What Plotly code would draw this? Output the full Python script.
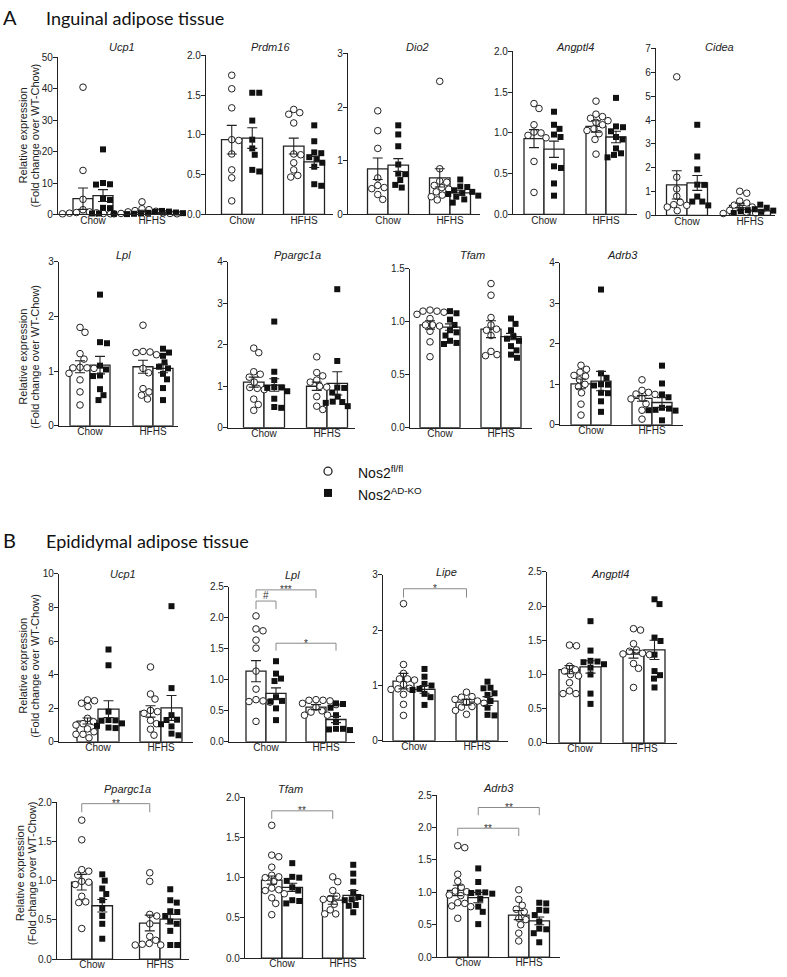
import plotly.graph_objects as go

W, H = 787, 977
FONT = "Liberation Sans, Arial, sans-serif"
HEAD_FONT = "Lato, Noto Sans, sans-serif"
INK = "#222222"

groups = ["Chow", "HFHS"]
legend_labels = ["Nos2<sup>fl/fl</sup>", "Nos2<sup>AD-KO</sup>"]
panel_titles = ["Inguinal adipose tissue", "Epididymal adipose tissue"]
ylab_lines = ["Relative expression", "(Fold change over WT-Chow)"]

# ---------------- data: group order = [fl/fl Chow, AD-KO Chow, fl/fl HFHS, AD-KO HFHS]
# Panel A - inguinal
ing_ucp1_pts = [[40.5, 14.0, 4.8, 1.5, 0.8, 0.5, 0.3, 0.2, 0.4, 0.6, 0.2],
                [20.7, 10.0, 9.6, 9.5, 4.9, 4.6, 2.0, 2.1, 0.3, 0.2, 0.3],
                [4.0, 1.8, 1.5, 1.2, 1.0, 0.8, 0.5, 0.3, 0.3, 0.2, 0.2],
                [1.1, 0.9, 0.8, 0.6, 0.5, 0.4, 0.3, 0.3, 0.2, 0.2, 0.1]]
ing_ucp1_mean = [5.0, 6.0, 1.0, 0.5]
ing_ucp1_sem = [3.4, 1.9, 0.3, 0.1]

ing_prdm16_pts = [[1.75, 1.58, 1.34, 0.94, 0.93, 0.76, 0.56, 0.46, 0.17],
                  [1.53, 1.53, 1.18, 0.94, 0.83, 0.75, 0.56, 0.54],
                  [1.32, 1.28, 1.26, 1.15, 0.76, 0.75, 0.65, 0.56, 0.49, 0.47],
                  [1.12, 0.92, 0.78, 0.77, 0.72, 0.70, 0.65, 0.60, 0.38, 0.36]]
ing_prdm16_mean = [0.94, 0.96, 0.86, 0.66]
ing_prdm16_sem = [0.18, 0.13, 0.10, 0.07]

ing_dio2_pts = [[1.93, 1.56, 1.23, 0.68, 0.54, 0.50, 0.48, 0.37, 0.28],
                [1.66, 1.49, 1.27, 0.93, 0.76, 0.75, 0.64, 0.55, 0.50],
                [2.48, 0.85, 0.62, 0.60, 0.54, 0.50, 0.47, 0.42, 0.36, 0.27, 0.33],
                [0.65, 0.52, 0.51, 0.45, 0.42, 0.40, 0.38, 0.35, 0.33, 0.28, 0.22]]
ing_dio2_mean = [0.85, 0.92, 0.68, 0.40]
ing_dio2_sem = [0.20, 0.12, 0.17, 0.04]

ing_angptl4_pts = [[1.36, 1.30, 1.10, 1.01, 1.00, 0.97, 0.94, 0.65, 0.27],
                   [1.26, 1.10, 1.05, 0.98, 0.95, 0.59, 0.57, 0.38, 0.23],
                   [1.39, 1.23, 1.20, 1.18, 1.15, 1.13, 1.10, 1.05, 1.03, 0.99, 0.92, 0.74],
                   [1.43, 1.08, 1.07, 1.02, 0.95, 0.92, 0.81, 0.75, 0.73, 0.70]]
ing_angptl4_mean = [0.93, 0.80, 1.08, 0.95]
ing_angptl4_sem = [0.11, 0.10, 0.07, 0.07]

ing_cidea_pts = [[5.81, 1.60, 1.11, 0.80, 0.55, 0.45, 0.42, 0.35, 0.20],
                 [3.80, 2.47, 1.93, 1.29, 1.28, 0.79, 0.58, 0.58, 0.42],
                 [1.01, 0.93, 0.60, 0.52, 0.43, 0.35, 0.28, 0.21, 0.14, 0.10, 0.08],
                 [0.45, 0.32, 0.26, 0.22, 0.20, 0.18, 0.15, 0.12, 0.10, 0.08]]
ing_cidea_mean = [1.28, 1.36, 0.42, 0.19]
ing_cidea_sem = [0.59, 0.31, 0.09, 0.04]

ing_lpl_pts = [[1.80, 1.71, 1.32, 1.22, 1.07, 1.06, 1.06, 1.05, 0.96, 0.84, 0.62, 0.38],
               [2.40, 1.53, 1.51, 1.10, 1.03, 0.92, 0.91, 0.67, 0.56, 0.47],
               [1.84, 1.36, 1.35, 1.34, 1.30, 1.05, 0.97, 0.68, 0.62, 0.56, 0.49],
               [1.41, 1.34, 1.28, 1.16, 1.08, 1.05, 0.95, 0.85, 0.69, 0.47]]
ing_lpl_mean = [1.08, 1.11, 1.08, 1.05]
ing_lpl_sem = [0.11, 0.16, 0.12, 0.08]

ing_ppargc1a_pts = [[1.92, 1.81, 1.35, 1.29, 1.22, 1.10, 0.97, 0.95, 0.92, 0.69, 0.56, 0.42],
                    [2.56, 1.35, 1.15, 0.98, 0.97, 0.96, 0.88, 0.70, 0.50, 0.48],
                    [1.71, 1.33, 1.25, 1.15, 1.10, 1.00, 0.98, 0.75, 0.52, 0.44],
                    [3.34, 1.61, 0.97, 0.96, 0.85, 0.75, 0.63, 0.62, 0.60, 0.52]]
ing_ppargc1a_mean = [1.10, 1.03, 1.00, 1.07]
ing_ppargc1a_sem = [0.12, 0.15, 0.10, 0.28]

ing_tfam_pts = [[1.10, 1.10, 1.11, 1.09, 1.07, 1.03, 0.97, 0.97, 0.96, 0.91, 0.81, 0.67],
                [1.10, 1.08, 1.02, 0.97, 0.92, 0.90, 0.87, 0.82, 0.80, 0.79],
                [1.36, 1.25, 1.04, 0.97, 0.93, 0.92, 0.87, 0.72, 0.69, 0.68],
                [1.03, 0.98, 0.92, 0.86, 0.84, 0.82, 0.77, 0.73, 0.69, 0.66]]
ing_tfam_mean = [0.97, 0.95, 0.93, 0.86]
ing_tfam_sem = [0.04, 0.03, 0.08, 0.03]

ing_adrb3_pts = [[1.47, 1.37, 1.30, 1.22, 1.20, 1.11, 1.00, 0.94, 0.79, 0.51, 0.24],
                 [3.34, 1.27, 1.16, 1.00, 0.99, 0.97, 0.79, 0.78, 0.58, 0.32],
                 [1.11, 0.85, 0.80, 0.76, 0.75, 0.66, 0.64, 0.52, 0.36, 0.14],
                 [1.46, 1.02, 0.75, 0.68, 0.42, 0.40, 0.37, 0.36, 0.35, 0.11]]
ing_adrb3_mean = [1.01, 1.08, 0.65, 0.55]
ing_adrb3_sem = [0.12, 0.24, 0.07, 0.12]

# Panel B - epididymal
epi_ucp1_pts = [[2.50, 2.45, 2.30, 2.10, 1.40, 1.20, 1.08, 1.00, 0.77, 0.60, 0.45, 0.45, 0.24],
                [5.50, 4.56, 1.80, 1.30, 1.28, 1.26, 1.10, 0.95, 0.85, 0.82],
                [4.46, 2.85, 2.55, 1.87, 1.80, 1.70, 1.28, 1.08, 0.75, 0.40],
                [8.08, 3.20, 1.59, 1.32, 1.30, 1.05, 0.92, 0.49, 0.39]]
epi_ucp1_mean = [1.24, 1.95, 1.81, 2.02]
epi_ucp1_sem = [0.18, 0.50, 0.34, 0.74]

epi_lpl_pts = [[2.03, 1.82, 1.79, 1.64, 1.51, 1.14, 0.85, 0.68, 0.66, 0.65, 0.64, 0.33],
               [1.30, 1.10, 1.02, 0.98, 0.72, 0.66, 0.65, 0.54, 0.35],
               [0.68, 0.67, 0.67, 0.66, 0.62, 0.60, 0.56, 0.50, 0.48, 0.43, 0.43],
               [0.62, 0.61, 0.55, 0.43, 0.32, 0.21, 0.21, 0.20, 0.19]]
epi_lpl_mean = [1.14, 0.78, 0.56, 0.36]
epi_lpl_sem = [0.17, 0.09, 0.04, 0.05]

epi_lipe_pts = [[2.48, 1.38, 1.22, 1.12, 1.12, 1.10, 1.02, 0.95, 0.94, 0.93, 0.84, 0.66, 0.46],
                [1.30, 1.16, 1.03, 1.00, 0.94, 0.92, 0.85, 0.79, 0.65],
                [0.88, 0.80, 0.79, 0.75, 0.72, 0.70, 0.68, 0.62, 0.61, 0.55, 0.48],
                [1.07, 0.96, 0.95, 0.86, 0.83, 0.72, 0.60, 0.47, 0.46]]
epi_lipe_mean = [1.08, 0.93, 0.70, 0.72]
epi_lipe_sem = [0.14, 0.07, 0.05, 0.08]

epi_angptl4_pts = [[1.43, 1.42, 1.12, 1.07, 1.05, 1.00, 0.98, 0.88, 0.76, 0.72, 0.72],
                   [1.78, 1.35, 1.20, 1.19, 1.18, 1.15, 1.10, 1.00, 0.72, 0.57],
                   [1.67, 1.65, 1.45, 1.36, 1.34, 1.31, 1.30, 1.29, 1.16, 1.09, 0.81],
                   [2.10, 2.03, 1.54, 1.49, 1.29, 1.05, 0.99, 0.94, 0.81]]
epi_angptl4_mean = [1.07, 1.11, 1.30, 1.36]
epi_angptl4_sem = [0.06, 0.09, 0.06, 0.14]

epi_ppargc1a_pts = [[1.77, 1.52, 1.14, 1.12, 1.07, 0.99, 0.98, 0.95, 0.80, 0.73, 0.72, 0.39],
                    [1.08, 1.00, 0.90, 0.83, 0.75, 0.65, 0.55, 0.45, 0.26],
                    [1.10, 0.99, 0.57, 0.55, 0.45, 0.29, 0.24, 0.20, 0.19, 0.18, 0.18],
                    [0.89, 0.75, 0.72, 0.61, 0.60, 0.55, 0.48, 0.45, 0.36, 0.18, 0.18]]
epi_ppargc1a_mean = [0.98, 0.68, 0.46, 0.51]
epi_ppargc1a_sem = [0.10, 0.08, 0.10, 0.06]

epi_tfam_pts = [[1.65, 1.28, 1.26, 1.13, 1.03, 1.01, 1.00, 0.95, 0.87, 0.85, 0.84, 0.80, 0.75, 0.68, 0.54],
                [1.18, 1.01, 1.00, 0.96, 0.88, 0.84, 0.72, 0.71, 0.68],
                [1.01, 0.95, 0.84, 0.77, 0.74, 0.73, 0.67, 0.60, 0.55, 0.55],
                [1.16, 1.05, 0.95, 0.82, 0.76, 0.73, 0.72, 0.66, 0.65, 0.57]]
epi_tfam_mean = [0.97, 0.88, 0.72, 0.78]
epi_tfam_sem = [0.05, 0.05, 0.05, 0.06]

epi_adrb3_pts = [[1.72, 1.69, 1.28, 1.17, 1.08, 1.02, 1.01, 0.96, 0.95, 0.84, 0.83, 0.79, 0.78, 0.60],
                 [1.37, 1.16, 1.00, 1.00, 0.99, 0.98, 0.90, 0.78, 0.70, 0.51],
                 [1.04, 0.89, 0.80, 0.74, 0.70, 0.60, 0.58, 0.50, 0.37, 0.25],
                 [0.84, 0.83, 0.73, 0.72, 0.65, 0.55, 0.44, 0.43, 0.37, 0.23]]
epi_adrb3_mean = [1.03, 0.92, 0.65, 0.56]
epi_adrb3_sem = [0.08, 0.08, 0.07, 0.06]

# significance brackets: (bar a, bar b, top, leg end, label)
epi_lpl_sig = [(0, 1, 2.27, 2.14, "#"), (0, 2, 2.45, 2.32, "***"), (1, 3, 1.59, 1.47, "*")]
epi_lipe_sig = [(0, 2, 2.75, 2.59, "*")]
epi_ppargc1a_sig = [(0, 2, 1.98, 1.87, "**")]
epi_tfam_sig = [(0, 2, 1.83, 1.73, "**")]
epi_adrb3_sig = [(0, 2, 1.99, 1.87, "**"), (1, 3, 2.31, 2.19, "**")]

# ---------------- layout of the small panels (pixels)
# box = (y-axis x, x-axis end, top, bottom), c = group centres, bw = bar width, tx/ty = title,
# lab = x of the two y-label lines and their vertical centre
panels = [
    dict(t="Ucp1", p=ing_ucp1_pts, m=ing_ucp1_mean, s=ing_ucp1_sem, ymax=50, dt=10, f="d",
         box=(58, 183, 52, 211), c=(93, 152), bw=20, tx=122, ty=42, lab=(23, 35, 131)),
    dict(t="Prdm16", p=ing_prdm16_pts, m=ing_prdm16_mean, s=ing_prdm16_sem, ymax=2, dt=0.5, f=".1f",
         box=(206, 333, 50, 211), c=(242, 304), bw=20.5, tx=270, ty=42),
    dict(t="Dio2", p=ing_dio2_pts, m=ing_dio2_mean, s=ing_dio2_sem, ymax=3, dt=1, f="d",
         box=(348, 480, 48, 211), c=(388, 450), bw=20.5, tx=418, ty=42),
    dict(t="Angptl4", p=ing_angptl4_pts, m=ing_angptl4_mean, s=ing_angptl4_sem, ymax=2, dt=0.5, f=".1f",
         box=(513, 637, 46, 211), c=(544, 606), bw=20, tx=575, ty=42),
    dict(t="Cidea", p=ing_cidea_pts, m=ing_cidea_mean, s=ing_cidea_sem, ymax=7, dt=1, f="d",
         box=(656, 775, 43, 212), c=(687, 750), bw=20.5, tx=719, ty=42),
    dict(t="Lpl", p=ing_lpl_pts, m=ing_lpl_mean, s=ing_lpl_sem, ymax=3, dt=1, f="d",
         box=(59, 178, 259, 425), c=(90, 153), bw=20, tx=123, ty=252, lab=(23, 35, 355)),
    dict(t="Ppargc1a", p=ing_ppargc1a_pts, m=ing_ppargc1a_mean, s=ing_ppargc1a_sem, ymax=4, dt=1, f="d",
         box=(228, 355, 259, 427), c=(264, 327), bw=20.5, tx=297, ty=252),
    dict(t="Tfam", p=ing_tfam_pts, m=ing_tfam_mean, s=ing_tfam_sem, ymax=1.5, dt=0.5, f=".1f",
         box=(410, 532, 266, 427), c=(440, 501), bw=20, tx=472, ty=252),
    dict(t="Adrb3", p=ing_adrb3_pts, m=ing_adrb3_mean, s=ing_adrb3_sem, ymax=4, dt=1, f="d",
         box=(560, 683, 260, 424), c=(591, 652), bw=20, tx=622, ty=252),
    dict(t="Ucp1", p=epi_ucp1_pts, m=epi_ucp1_mean, s=epi_ucp1_sem, ymax=10, dt=2, f="d",
         box=(59, 193, 575, 745), c=(98, 161), bw=21, tx=123, ty=575, lab=(23, 35, 668)),
    dict(t="Lpl", p=epi_lpl_pts, m=epi_lpl_mean, s=epi_lpl_sem, ymax=2.5, dt=0.5, f=".1f",
         box=(229, 355, 588, 745), c=(266, 326), bw=20, tx=292, ty=576, sig=epi_lpl_sig),
    dict(t="Lipe", p=epi_lipe_pts, m=epi_lipe_mean, s=epi_lipe_sem, ymax=3, dt=1, f="d",
         box=(383, 508, 576, 744), c=(414, 477), bw=21, tx=446, ty=573, sig=epi_lipe_sig),
    dict(t="Angptl4", p=epi_angptl4_pts, m=epi_angptl4_mean, s=epi_angptl4_sem, ymax=2.5, dt=0.5, f=".1f",
         box=(547, 677, 573, 746), c=(580, 644), bw=21, tx=610, ty=575),
    dict(t="Ppargc1a", p=epi_ppargc1a_pts, m=epi_ppargc1a_mean, s=epi_ppargc1a_sem, ymax=2, dt=0.5, f=".1f",
         box=(57, 189, 806, 965), c=(92, 160), bw=20.5, tx=127, ty=793, lab=(20, 32, 878), sig=epi_ppargc1a_sig),
    dict(t="Tfam", p=epi_tfam_pts, m=epi_tfam_mean, s=epi_tfam_sem, ymax=2, dt=0.5, f=".1f",
         box=(245, 366, 801, 964), c=(282, 343), bw=20.5, tx=290, ty=793, sig=epi_tfam_sig),
    dict(t="Adrb3", p=epi_adrb3_pts, m=epi_adrb3_mean, s=epi_adrb3_sem, ymax=2.5, dt=0.5, f=".1f",
         box=(437, 560, 799, 963), c=(468, 529), bw=20.5, tx=498, ty=792, sig=epi_adrb3_sig),
]


def swarm(vals, px_per_y, diam=6.8, step=0.5):
    """horizontal pixel offsets so markers do not overlap (simple beeswarm)"""
    placed = []
    res = [0.0] * len(vals)
    for i in sorted(range(len(vals)), key=lambda k: -vals[k]):
        y = vals[i] * px_per_y
        chosen = 0.0
        for k in range(0, 80):
            cands = [0.0] if k == 0 else [k * step, -k * step]
            hit = None
            for cx in cands:
                if all((cx - px) ** 2 + (y - py) ** 2 >= diam ** 2 for px, py in placed):
                    hit = cx
                    break
            if hit is not None:
                chosen = hit
                break
        placed.append((chosen, y))
        res[i] = chosen
    return res


def px_x(v):
    return v / W


def px_y(v):
    return 1 - v / H


fig = go.Figure()
annotations = []
shapes = []
layout_axes = {}

for i, pn in enumerate(panels):
    n = i + 1
    xs = "" if n == 1 else str(n)
    xa, ya = "x" + xs, "y" + xs
    x0, x1, yt, yb = pn["box"]
    c0, c1 = pn["c"]
    unit = c1 - c0
    bwu = pn["bw"] / unit
    centers = [-bwu / 2, bwu / 2, 1 - bwu / 2, 1 + bwu / 2]
    pxy = (yb - yt) / pn["ymax"]

    # bars
    for gi, (a, b) in enumerate([(0, 2), (1, 3)]):
        fig.add_trace(go.Bar(
            x=[centers[a], centers[b]], y=[pn["m"][a], pn["m"][b]], width=bwu,
            marker=dict(color="white", line=dict(color=INK, width=1.3)),
            xaxis=xa, yaxis=ya, showlegend=False, hoverinfo="skip"))
    # points
    for gi, (a, b) in enumerate([(0, 2), (1, 3)]):
        xx, yy = [], []
        for g in (a, b):
            offs = swarm(pn["p"][g], pxy)
            xx += [centers[g] + o / unit for o in offs]
            yy += list(pn["p"][g])
        if gi == 0:
            mk = dict(symbol="circle", size=6.6, color="white", line=dict(color=INK, width=1))
        else:
            mk = dict(symbol="square", size=6, color="#111111", line=dict(width=0))
        fig.add_trace(go.Scatter(x=xx, y=yy, mode="markers", marker=mk, cliponaxis=False,
                                 xaxis=xa, yaxis=ya, showlegend=False, hoverinfo="skip"))
    # error bars (mean +/- SEM)
    fig.add_trace(go.Scatter(
        x=centers, y=pn["m"], mode="markers", marker=dict(size=1, color="rgba(0,0,0,0)"),
        error_y=dict(type="data", array=pn["s"], color=INK, thickness=1.1, width=5),
        cliponaxis=False, xaxis=xa, yaxis=ya, showlegend=False, hoverinfo="skip"))

    layout_axes["xaxis" + xs] = dict(
        domain=[px_x(x0), px_x(x1)], anchor=ya,
        range=[-(c0 - x0) / unit, 1 + (x1 - c1) / unit],
        tickvals=[0, 1], ticktext=groups, ticks="", showline=True, linecolor=INK,
        linewidth=1.3, showgrid=False, zeroline=False, ticklabelstandoff=-4,
        tickfont=dict(family=FONT, size=10, color=INK), fixedrange=True)
    layout_axes["yaxis" + xs] = dict(
        domain=[px_y(yb), px_y(yt)], anchor=xa, range=[0, pn["ymax"]],
        dtick=pn["dt"], tick0=0, tickformat=pn["f"], ticks="outside", ticklen=4,
        tickwidth=1.1, tickcolor=INK, showline=True, linecolor=INK, linewidth=1.3,
        showgrid=False, zeroline=False, ticklabelstandoff=-2,
        tickfont=dict(family=FONT, size=10, color=INK), fixedrange=True)

    annotations.append(dict(text="<i>%s</i>" % pn["t"], x=px_x(pn["tx"]), y=px_y(pn["ty"]),
                            xref="paper", yref="paper", showarrow=False, xanchor="center",
                            yanchor="middle", font=dict(family=FONT, size=11, color=INK)))
    if "lab" in pn:
        lx1, lx2, ly = pn["lab"]
        for txt, lx in zip(ylab_lines, (lx1, lx2)):
            annotations.append(dict(text=txt, x=px_x(lx), y=px_y(ly), xref="paper", yref="paper",
                                    showarrow=False, textangle=-90, xanchor="center", yanchor="middle",
                                    font=dict(family=FONT, size=11, color=INK)))
    for (a, b, top, leg, lab) in pn.get("sig", []):
        xa_, xb_ = centers[a], centers[b]
        shapes.append(dict(type="path", xref=xa, yref=ya,
                           path="M %f %f L %f %f L %f %f L %f %f" % (xa_, leg, xa_, top, xb_, top, xb_, leg),
                           line=dict(color="#8a8a8a", width=1)))
        annotations.append(dict(text=lab, x=(xa_ + xb_) / 2, y=top, xref=xa, yref=ya,
                                showarrow=False, yanchor="middle",
                                yshift=(6 if lab == "#" else 0),
                                font=dict(family=FONT, size=10, color="#333333")))

# panel headers
for letter, title, ly in [("A", panel_titles[0], 11), ("B", panel_titles[1], 541)]:
    annotations.append(dict(text=letter, x=px_x(1), y=px_y(ly), xref="paper", yref="paper",
                            showarrow=False, xanchor="left", yanchor="middle",
                            font=dict(family=HEAD_FONT, size=20, color="#111")))
    annotations.append(dict(text=title, x=px_x(44), y=px_y(ly + 1), xref="paper", yref="paper",
                            showarrow=False, xanchor="left", yanchor="middle",
                            font=dict(family=HEAD_FONT, size=18, color="#111")))

# legend (drawn manually)
for k, (lbl, ly) in enumerate(zip(legend_labels, [471, 493])):
    if k == 0:
        shapes.append(dict(type="circle", xref="paper", yref="paper", xsizemode="pixel",
                           ysizemode="pixel", xanchor=px_x(328), yanchor=px_y(ly),
                           x0=-4, x1=4, y0=-4, y1=4, line=dict(color=INK, width=1.3),
                           fillcolor="white"))
    else:
        shapes.append(dict(type="rect", xref="paper", yref="paper", xsizemode="pixel",
                           ysizemode="pixel", xanchor=px_x(328), yanchor=px_y(ly),
                           x0=-4, x1=4, y0=-4, y1=4, line=dict(width=0), fillcolor="#111"))
    annotations.append(dict(text=lbl, x=px_x(356), y=px_y(ly + 1), xref="paper", yref="paper",
                            showarrow=False, xanchor="left", yanchor="middle",
                            font=dict(family=FONT, size=14, color="#111")))

fig.update_layout(
    width=W, height=H, margin=dict(l=0, r=0, t=0, b=0),
    paper_bgcolor="white", plot_bgcolor="white", barmode="overlay",
    showlegend=False, annotations=annotations, shapes=shapes,
    font=dict(family=FONT, color=INK), **layout_axes)

fig.write_html("out.html", config={"displayModeBar": False},
               post_script="document.body.style.margin='0';document.body.style.padding='0';")
